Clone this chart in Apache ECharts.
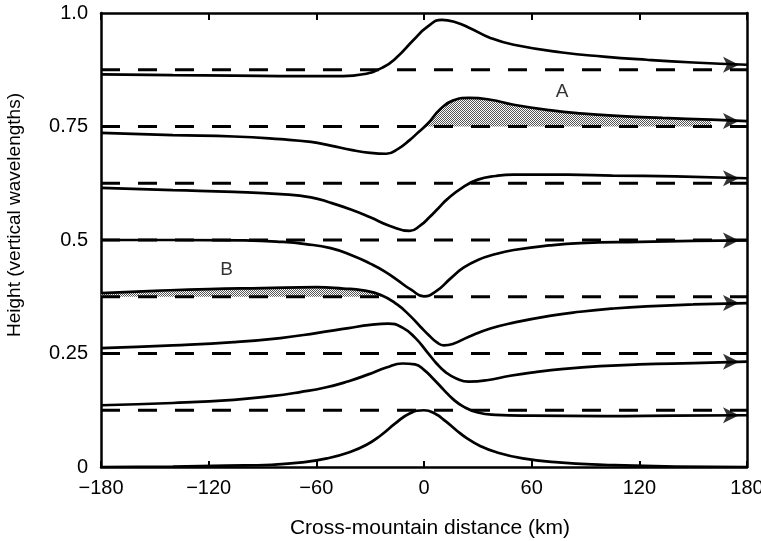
<!DOCTYPE html>
<html>
<head>
<meta charset="utf-8">
<script src="https://cdn.jsdelivr.net/npm/echarts@6/dist/echarts.min.js"></script>
<style>html,body{margin:0;padding:0;background:#fff}#c{width:761px;height:541px}</style>
</head>
<body>
<div id="c"></div>
<script>
// ---- data ----
const xTicks = [-180, -120, -60, 0, 60, 120, 180];
const yTicks = [0, 0.25, 0.5, 0.75, 1.0];
const yTickText = ['0', '0.25', '0.5', '0.75', '1.0'];
const baselines = [0.125, 0.25, 0.375, 0.5, 0.625, 0.75, 0.875];

const c1 = [[-180,0.865],[-140,0.863],[-106,0.862],[-70,0.861],[-45,0.861],[-34,0.865],[-23,0.880],[-15,0.903],[-6,0.940],[2,0.970],[10,0.985],[18,0.979],[26,0.966],[37,0.945],[50,0.930],[77,0.913],[100,0.904],[124,0.897],[150,0.891],[180,0.886]];
const c2 = [[-180,0.736],[-140,0.731],[-106,0.728],[-80,0.722],[-63,0.716],[-52,0.708],[-40,0.698],[-30,0.692],[-21,0.690],[-14,0.702],[-8,0.720],[-3,0.738],[2,0.756],[9,0.788],[16,0.807],[25,0.813],[37,0.809],[50,0.798],[70,0.786],[87,0.779],[110,0.773],[133,0.769],[160,0.765],[180,0.762]];
const c3 = [[-180,0.615],[-140,0.610],[-106,0.606],[-80,0.601],[-63,0.594],[-52,0.582],[-40,0.566],[-30,0.550],[-19,0.531],[-8,0.520],[-2,0.532],[3,0.550],[8,0.570],[13,0.590],[22,0.617],[30,0.633],[40,0.641],[50,0.644],[80,0.644],[105,0.642],[140,0.640],[180,0.636]];
const c4 = [[-180,0.500],[-140,0.500],[-100,0.499],[-80,0.496],[-66,0.491],[-52,0.482],[-40,0.466],[-30,0.448],[-22,0.431],[-15,0.412],[-7,0.390],[0,0.376],[7,0.388],[15,0.416],[22,0.439],[30,0.456],[40,0.469],[50,0.478],[70,0.488],[87,0.493],[120,0.496],[150,0.498],[180,0.499]];
const c5 = [[-180,0.383],[-150,0.388],[-120,0.392],[-90,0.394],[-60,0.396],[-45,0.393],[-34,0.389],[-24,0.379],[-15,0.358],[-8,0.334],[-2,0.309],[3,0.289],[7,0.275],[11,0.268],[16,0.271],[25,0.287],[37,0.305],[50,0.318],[70,0.333],[87,0.342],[105,0.349],[124,0.354],[150,0.358],[180,0.361]];
const c6 = [[-180,0.262],[-140,0.268],[-106,0.275],[-80,0.284],[-60,0.295],[-42,0.306],[-30,0.313],[-20,0.316],[-12,0.307],[-5,0.285],[2,0.252],[7,0.228],[12,0.209],[18,0.195],[25,0.188],[35,0.191],[48,0.201],[62,0.209],[78,0.216],[98,0.222],[120,0.226],[150,0.229],[180,0.232]];
const c7 = [[-180,0.136],[-140,0.141],[-106,0.148],[-85,0.156],[-69,0.165],[-55,0.175],[-42,0.189],[-31,0.204],[-21,0.219],[-12,0.228],[-5,0.226],[0,0.214],[5,0.195],[11,0.170],[16,0.150],[22,0.133],[30,0.120],[40,0.115],[60,0.113],[100,0.112],[140,0.113],[180,0.114]];
const c8 = [[-180,0.000],[-140,0.001],[-110,0.003],[-85,0.005],[-68,0.010],[-54,0.019],[-42,0.032],[-32,0.049],[-24,0.070],[-16,0.096],[-8,0.118],[0,0.125],[6,0.118],[12,0.101],[18,0.081],[24,0.063],[31,0.047],[40,0.033],[55,0.019],[75,0.010],[100,0.005],[140,0.001],[180,0.000]];
const curves = [c1, c2, c3, c4, c5, c6, c7, c8];

// shaded regions: A (curve 2 above 0.75), B (curve 5 above 0.375)
const shadeAStart = [0.5, 0.75];
const shadeAEnd = 170;
const shadeBEnd = [-23, 0.375];
const labels = [{name: 'A', value: [77, 0.826]}, {name: 'B', value: [-110, 0.435]}];

// ---- build ----
const pc = document.createElement('canvas');
pc.width = 2; pc.height = 2;
const pctx = pc.getContext('2d');
pctx.fillStyle = '#ffffff'; pctx.fillRect(0, 0, 2, 2);
pctx.fillStyle = '#555555'; pctx.fillRect(0, 0, 1, 1); pctx.fillRect(1, 1, 1, 1);
const stipple = {image: pc, repeat: 'repeat'};

const shadeA = [shadeAStart].concat(c2.filter(p => p[0] > shadeAStart[0] && p[0] <= shadeAEnd));
const shadeB = c5.filter(p => p[0] < shadeBEnd[0]).concat([shadeBEnd]);

const FONT = 'Liberation Sans, Arial, sans-serif';
const SM = 0.5;
const series = [];
series.push({type: 'line', data: shadeA, smooth: SM, symbol: 'none', lineStyle: {width: 0},
  areaStyle: {color: stipple, opacity: 1, origin: 0.75}, z: 1, silent: true});
series.push({type: 'line', data: shadeB, smooth: SM, symbol: 'none', lineStyle: {width: 0},
  areaStyle: {color: stipple, opacity: 1, origin: 0.375}, z: 1, silent: true});
baselines.forEach(b => {
  series.push({type: 'line', data: [[-180, b], [180, b]], symbol: 'none',
    lineStyle: {color: '#000', width: 3, type: [19, 18]}, z: 2, silent: true});
});
curves.forEach(c => {
  series.push({type: 'line', data: c, smooth: SM, symbol: 'none',
    lineStyle: {color: '#000', width: 2.7}, z: 3, silent: true});
});
series.push({type: 'scatter', data: curves.slice(0, 7).map(c => c[c.length - 1]),
  symbol: 'arrow', symbolSize: [12, 16], symbolRotate: -90, symbolOffset: [-8, 0],
  itemStyle: {color: '#000'}, z: 4, silent: true, clip: false});
series.push({type: 'scatter', data: labels, symbolSize: 0, z: 5, silent: true,
  label: {show: true, position: 'inside', formatter: p => p.name, color: '#000', fontSize: 19, fontFamily: FONT}});

const chart = echarts.init(document.getElementById('c'), null, {renderer: 'canvas'});
chart.setOption({
  animation: false,
  backgroundColor: '#fff',
  grid: {left: 101, right: 14, top: 13, bottom: 74, containLabel: false, outerBoundsMode: 'none'},
  xAxis: [{
    type: 'value', min: xTicks[0], max: xTicks[xTicks.length - 1], interval: 60,
    axisLine: {show: true, onZero: false, lineStyle: {color: '#000', width: 2.5}},
    axisTick: {show: true, inside: true, length: 6, lineStyle: {color: '#000', width: 2}},
    axisLabel: {color: '#000', fontSize: 20, fontFamily: FONT, margin: 11,
      formatter: v => v < 0 ? '\u2212' + Math.abs(v) : String(v)},
    splitLine: {show: false}
  }, {
    type: 'value', position: 'top', min: xTicks[0], max: xTicks[xTicks.length - 1], interval: 60,
    axisLine: {show: true, onZero: false, lineStyle: {color: '#000', width: 2.5}},
    axisTick: {show: true, inside: true, length: 7, lineStyle: {color: '#000', width: 2}},
    axisLabel: {show: false}, splitLine: {show: false}
  }],
  yAxis: [{
    type: 'value', min: 0, max: 1, interval: 0.25,
    axisLine: {show: true, onZero: false, lineStyle: {color: '#000', width: 2.5}},
    axisTick: {show: false},
    axisLabel: {color: '#000', fontSize: 20, fontFamily: FONT, margin: 13,
      formatter: v => { const i = yTicks.findIndex(t => Math.abs(t - v) < 1e-6); return i >= 0 ? yTickText[i] : ''; }},
    splitLine: {show: false}
  }, {
    type: 'value', position: 'right', min: 0, max: 1,
    axisLine: {show: true, onZero: false, lineStyle: {color: '#000', width: 2.5}},
    axisTick: {show: false}, axisLabel: {show: false}, splitLine: {show: false}
  }],
  graphic: [
    {type: 'text', x: 430, y: 528, style: {text: 'Cross-mountain distance (km)', fontSize: 21, fontFamily: FONT,
      fill: '#000', textAlign: 'center', textVerticalAlign: 'middle'}},
    {type: 'text', x: 15, y: 215, rotation: Math.PI / 2, style: {text: 'Height (vertical wavelengths)', fontSize: 19,
      fontFamily: FONT, fill: '#000', textAlign: 'center', textVerticalAlign: 'middle'}}
  ],
  series: series
});
</script>
</body>
</html>
